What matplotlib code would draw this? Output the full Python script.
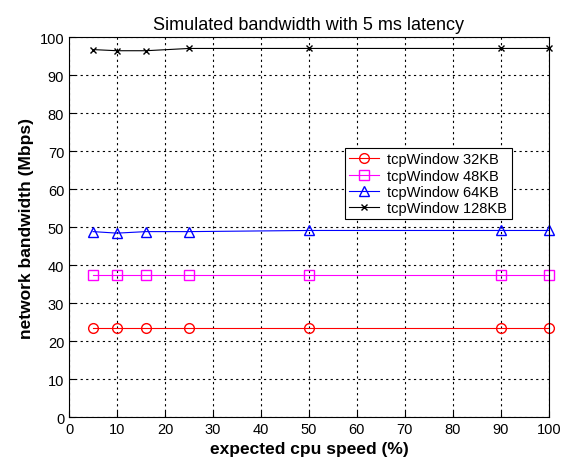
import matplotlib
matplotlib.use("Agg")
import matplotlib.pyplot as plt

plt.rcParams['font.family'] = ['Liberation Sans', 'DejaVu Sans']

# cpu speed values (%)
cpu_speed = [5, 10, 16, 25, 50, 90, 100]

# bandwidth per tcp window size (Mbps)
bw_32kb = [23.5, 23.5, 23.5, 23.5, 23.5, 23.5, 23.5]
bw_48kb = [37.5, 37.5, 37.5, 37.5, 37.5, 37.5, 37.5]
bw_64kb = [48.8, 48.4, 48.8, 48.8, 49.1, 49.1, 49.1]
bw_128kb = [96.7, 96.4, 96.4, 97.0, 97.0, 97.0, 97.0]

fig = plt.figure(figsize=(5.71, 4.64), dpi=100)
ax = fig.add_axes([0.121, 0.099, 0.840, 0.819])

ax.plot(cpu_speed, bw_32kb, color='red', marker='o', mfc='none', ms=7, lw=0.8,
        label='tcpWindow 32KB', clip_on=False)
ax.plot(cpu_speed, bw_48kb, color='magenta', marker='s', mfc='none', ms=7, lw=0.8,
        label='tcpWindow 48KB', clip_on=False)
ax.plot(cpu_speed, bw_64kb, color='blue', marker='^', mfc='none', ms=7, lw=0.8,
        label='tcpWindow 64KB', clip_on=False)
ax.plot(cpu_speed, bw_128kb, color='black', marker='x', ms=4, lw=0.8,
        label='tcpWindow 128KB', clip_on=False)

ax.set_xlim(0, 100)
ax.set_ylim(0, 100)
ax.set_xticks(range(0, 101, 10))
ax.set_yticks(range(0, 101, 10))
ax.tick_params(labelsize=10.5, direction='in', length=4)
ax.grid(True, color='black', linestyle=(0, (2, 3)), linewidth=0.8)

ax.set_title('Simulated bandwidth with 5 ms latency', fontsize=13)
ax.set_xlabel('expected cpu speed (%)', fontsize=12.5, fontweight='bold')
ax.set_ylabel('network bandwidth (Mbps)', fontsize=12.5, fontweight='bold')

leg = ax.legend(loc='upper left', bbox_to_anchor=(0.56, 0.727), fontsize=10.5,
                fancybox=False, framealpha=1, edgecolor='black',
                borderpad=0.3, labelspacing=0.15, handlelength=2.0,
                handletextpad=0.6)
leg.get_frame().set_linewidth(0.8)

fig.savefig('out.png', dpi=100)
